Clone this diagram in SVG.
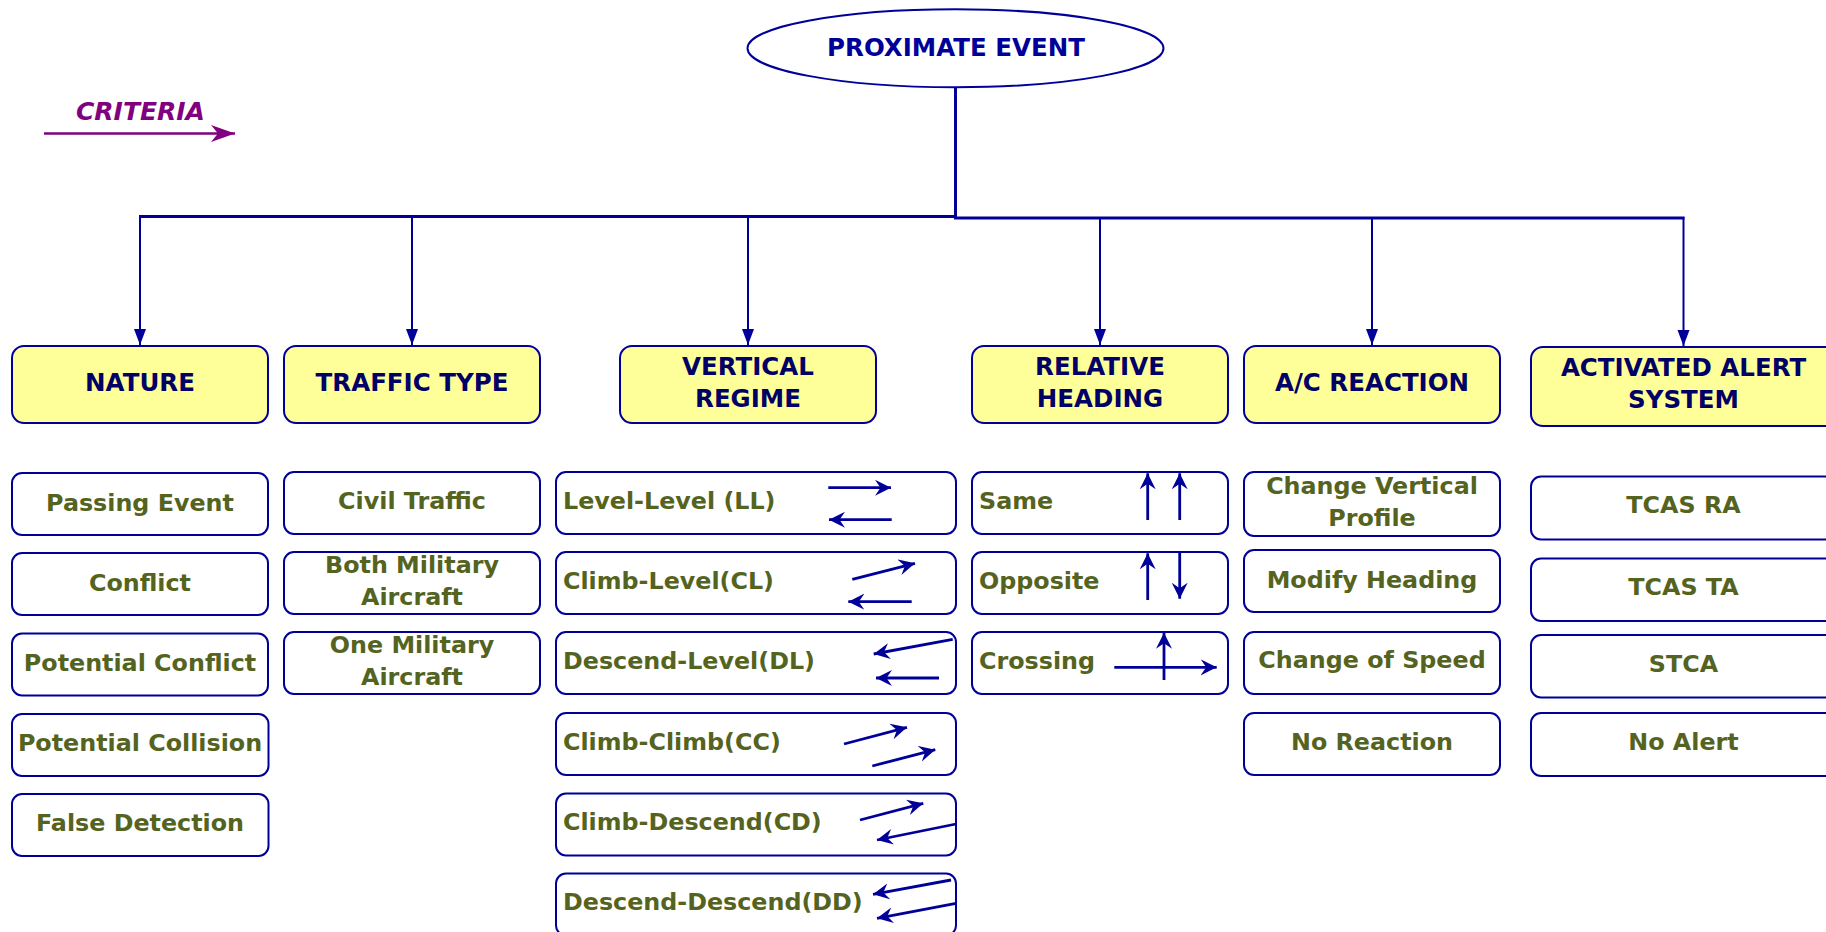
<svg xmlns="http://www.w3.org/2000/svg" width="1826" height="932" viewBox="0 0 1826 932">
<style>
.hdr{fill:#FFFF99;stroke:#000099;stroke-width:2}
.box{fill:#FFFFFF;stroke:#000099;stroke-width:2}
.ht{font-family:"DejaVu Sans",sans-serif;font-weight:bold;font-size:24.5px;fill:#000066;text-anchor:middle}
.ct{font-family:"DejaVu Sans",sans-serif;font-weight:bold;font-size:23.8px;fill:#556320;text-anchor:middle}
.ct.l{text-anchor:start}
.conn{stroke:#000099;stroke-width:2;fill:none}
.trunk{stroke:#000099;stroke-width:3;fill:none}
.pic{stroke:#000099;stroke-width:2.8;fill:none;marker-end:url(#sa)}
</style>
<defs>
<marker id="sa" markerUnits="userSpaceOnUse" markerWidth="18" markerHeight="18" refX="16" refY="8.5" orient="auto">
<path d="M16,8.5 L0,0.5 L5.5,8.5 L0,16.5 Z" fill="#000099"/>
</marker>
<marker id="ta" markerUnits="userSpaceOnUse" markerWidth="18" markerHeight="14" refX="16" refY="6" orient="auto">
<path d="M0,0 L16,6 L0,12 Z" fill="#000099"/>
</marker>
<marker id="pa" markerUnits="userSpaceOnUse" markerWidth="28" markerHeight="20" refX="25" refY="9" orient="auto">
<path d="M25,9 L1,0.5 L8,9 L1,17.5 Z" fill="#800080"/>
</marker>
</defs>
<rect width="1826" height="932" fill="#FFFFFF"/>

<g id="criteria">
<text x="76" y="119.5" font-family="DejaVu Sans, sans-serif" font-weight="bold" font-style="italic" font-size="25" fill="#800080">CRITERIA</text>
<line x1="44" y1="133.5" x2="235" y2="133.5" stroke="#800080" stroke-width="2.5" marker-end="url(#pa)"/>
</g>

<g id="connectors">
<line class="trunk" x1="955.5" y1="87" x2="955.5" y2="218"/>
<line class="trunk" x1="139" y1="216.5" x2="957" y2="216.5"/>
<line class="trunk" x1="954" y1="218" x2="1684.5" y2="218"/>
<line class="conn" x1="140" y1="216" x2="140" y2="345" marker-end="url(#ta)"/>
<line class="conn" x1="412" y1="216" x2="412" y2="345" marker-end="url(#ta)"/>
<line class="conn" x1="748" y1="216" x2="748" y2="345" marker-end="url(#ta)"/>
<line class="conn" x1="1100" y1="217" x2="1100" y2="345" marker-end="url(#ta)"/>
<line class="conn" x1="1372" y1="217" x2="1372" y2="345" marker-end="url(#ta)"/>
<line class="conn" x1="1683.5" y1="217" x2="1683.5" y2="346" marker-end="url(#ta)"/>
</g>

<g id="proximate-event">
<ellipse cx="955.5" cy="48.3" rx="208" ry="39" fill="#FFFFFF" stroke="#000099" stroke-width="2"/>
<text x="956" y="55.5" font-family="DejaVu Sans, sans-serif" font-weight="bold" font-size="24.5" fill="#000099" text-anchor="middle">PROXIMATE EVENT</text>
</g>

<g id="nature">
<rect class="hdr" x="12" y="346" width="256" height="77" rx="12"/>
<text class="ht" x="140" y="391">NATURE</text>
</g>
<g id="traffic-type">
<rect class="hdr" x="284" y="346" width="256" height="77" rx="12"/>
<text class="ht" x="412" y="391">TRAFFIC TYPE</text>
</g>
<g id="vertical-regime">
<rect class="hdr" x="620" y="346" width="256" height="77" rx="12"/>
<text class="ht" x="748" y="374.5">VERTICAL</text>
<text class="ht" x="748" y="406.5">REGIME</text>
</g>
<g id="relative-heading">
<rect class="hdr" x="972" y="346" width="256" height="77" rx="12"/>
<text class="ht" x="1100" y="374.5">RELATIVE</text>
<text class="ht" x="1100" y="406.5">HEADING</text>
</g>
<g id="ac-reaction">
<rect class="hdr" x="1244" y="346" width="256" height="77" rx="12"/>
<text class="ht" x="1372" y="391">A/C REACTION</text>
</g>
<g id="activated-alert-system">
<rect class="hdr" x="1531" y="347" width="310" height="79" rx="12"/>
<text class="ht" x="1683.5" y="376">ACTIVATED ALERT</text>
<text class="ht" x="1683.5" y="408">SYSTEM</text>
</g>

<g id="passing-event">
<rect class="box" x="12" y="473" width="256" height="62" rx="10"/>
<text class="ct" x="140" y="510.5">Passing Event</text>
</g>
<g id="conflict">
<rect class="box" x="12" y="553" width="256" height="62" rx="10"/>
<text class="ct" x="140" y="590.5">Conflict</text>
</g>
<g id="potential-conflict">
<rect class="box" x="12" y="633.5" width="256" height="62" rx="10"/>
<text class="ct" x="140" y="671">Potential Conflict</text>
</g>
<g id="potential-collision">
<rect class="box" x="12" y="714" width="256.5" height="62" rx="10"/>
<text class="ct" x="140" y="751">Potential Collision</text>
</g>
<g id="false-detection">
<rect class="box" x="12" y="794" width="256.5" height="62" rx="10"/>
<text class="ct" x="140" y="831">False Detection</text>
</g>

<g id="civil-traffic">
<rect class="box" x="284" y="472" width="256" height="62" rx="10"/>
<text class="ct" x="412" y="509">Civil Traffic</text>
</g>
<g id="both-military">
<rect class="box" x="284" y="552" width="256" height="62" rx="10"/>
<text class="ct" x="412" y="572.5">Both Military</text>
<text class="ct" x="412" y="604.5">Aircraft</text>
</g>
<g id="one-military">
<rect class="box" x="284" y="632" width="256" height="62" rx="10"/>
<text class="ct" x="412" y="652.5">One Military</text>
<text class="ct" x="412" y="684.5">Aircraft</text>
</g>

<g id="level-level">
<rect class="box" x="556" y="472" width="400" height="62" rx="10"/>
<text class="ct l" x="563" y="509">Level-Level (LL)</text>
<line class="pic" x1="828.3" y1="487.7" x2="891" y2="487.7"/>
<line class="pic" x1="891.7" y1="519.7" x2="829" y2="519.7"/>
</g>
<g id="climb-level">
<rect class="box" x="556" y="552" width="400" height="62" rx="10"/>
<text class="ct l" x="563" y="588.5">Climb-Level(CL)</text>
<line class="pic" x1="852.3" y1="579.3" x2="915" y2="563.3"/>
<line class="pic" x1="911.7" y1="601.7" x2="848.3" y2="601.7"/>
</g>
<g id="descend-level">
<rect class="box" x="556" y="632" width="400" height="62" rx="10"/>
<text class="ct l" x="563" y="669">Descend-Level(DL)</text>
<line class="pic" x1="952.7" y1="639.3" x2="873.7" y2="654"/>
<line class="pic" x1="939" y1="678" x2="876" y2="678"/>
</g>
<g id="climb-climb">
<rect class="box" x="556" y="713" width="400" height="62" rx="10"/>
<text class="ct l" x="563" y="750">Climb-Climb(CC)</text>
<line class="pic" x1="844" y1="744" x2="907" y2="727.3"/>
<line class="pic" x1="872.3" y1="766" x2="935.3" y2="749.7"/>
</g>
<g id="climb-descend">
<rect class="box" x="556" y="793.5" width="400" height="62" rx="10"/>
<text class="ct l" x="563" y="830">Climb-Descend(CD)</text>
<line class="pic" x1="860" y1="820" x2="923.3" y2="803.3"/>
<line class="pic" x1="956" y1="824" x2="877" y2="840"/>
</g>
<g id="descend-descend">
<rect class="box" x="556" y="873.5" width="400" height="62" rx="10"/>
<text class="ct l" x="563" y="910">Descend-Descend(DD)</text>
<line class="pic" x1="951" y1="880" x2="873" y2="894.3"/>
<line class="pic" x1="956" y1="903.3" x2="877" y2="918.3"/>
</g>

<g id="same">
<rect class="box" x="972" y="472" width="256" height="62" rx="10"/>
<text class="ct l" x="979" y="509">Same</text>
<line class="pic" x1="1147.7" y1="520" x2="1147.7" y2="473.3"/>
<line class="pic" x1="1179.7" y1="520" x2="1179.7" y2="473.3"/>
</g>
<g id="opposite">
<rect class="box" x="972" y="552" width="256" height="62" rx="10"/>
<text class="ct l" x="979" y="589">Opposite</text>
<line class="pic" x1="1147.7" y1="600" x2="1147.7" y2="553.3"/>
<line class="pic" x1="1179.7" y1="552.7" x2="1179.7" y2="598.7"/>
</g>
<g id="crossing">
<rect class="box" x="972" y="632" width="256" height="62" rx="10"/>
<text class="ct l" x="979" y="669">Crossing</text>
<line class="pic" x1="1164" y1="680" x2="1164" y2="632.7"/>
<line class="pic" x1="1114.3" y1="667.3" x2="1216.7" y2="667.3"/>
</g>

<g id="change-vertical-profile">
<rect class="box" x="1244" y="472" width="256" height="64" rx="10"/>
<text class="ct" x="1372" y="494">Change Vertical</text>
<text class="ct" x="1372" y="526">Profile</text>
</g>
<g id="modify-heading">
<rect class="box" x="1244" y="550" width="256" height="62" rx="10"/>
<text class="ct" x="1372" y="587.5">Modify Heading</text>
</g>
<g id="change-of-speed">
<rect class="box" x="1244" y="632" width="256" height="62" rx="10"/>
<text class="ct" x="1372" y="667.5">Change of Speed</text>
</g>
<g id="no-reaction">
<rect class="box" x="1244" y="713" width="256" height="62" rx="10"/>
<text class="ct" x="1372" y="750">No Reaction</text>
</g>

<g id="tcas-ra">
<rect class="box" x="1531" y="476.5" width="310" height="63" rx="10"/>
<text class="ct" x="1683.5" y="513">TCAS RA</text>
</g>
<g id="tcas-ta">
<rect class="box" x="1531" y="558.5" width="310" height="62.5" rx="10"/>
<text class="ct" x="1683.5" y="595">TCAS TA</text>
</g>
<g id="stca">
<rect class="box" x="1531" y="635" width="310" height="62.5" rx="10"/>
<text class="ct" x="1683.5" y="672">STCA</text>
</g>
<g id="no-alert">
<rect class="box" x="1531" y="713" width="310" height="63" rx="10"/>
<text class="ct" x="1683.5" y="750">No Alert</text>
</g>
</svg>
